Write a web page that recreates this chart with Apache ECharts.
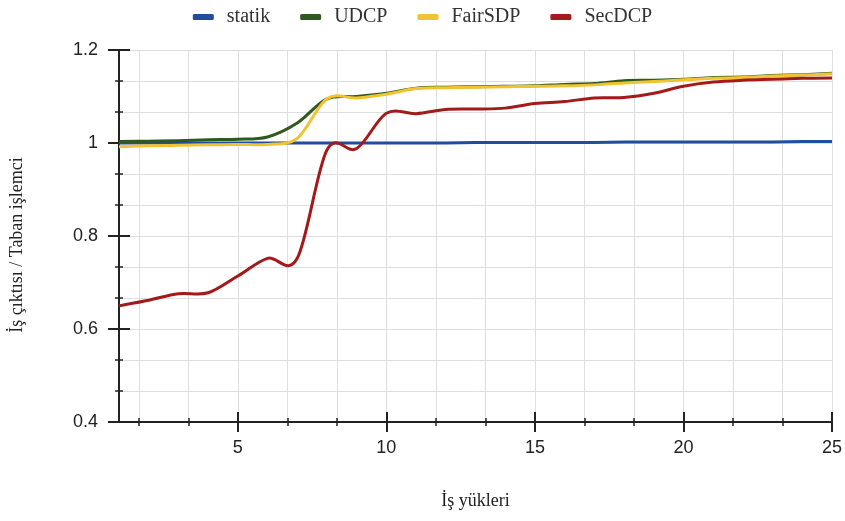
<!DOCTYPE html>
<html>
<head>
<meta charset="utf-8">
<script src="https://cdn.jsdelivr.net/npm/echarts@6/dist/echarts.min.js"></script>
<style>
  html, body { margin: 0; padding: 0; background: #fff; }
  #main { width: 845px; height: 521px; }
</style>
</head>
<body>
<div id="main"></div>
<script>
'use strict'
// throughput relative to base processor, 25 workloads

var colors = ['#1f4e9e', '#2f5a1d', '#f1c232', '#a41a1a'];

var workloads = [1, 2, 3, 4, 5, 6, 7, 8, 9, 10, 11, 12, 13, 14, 15, 16, 17, 18, 19, 20, 21, 22, 23, 24, 25];

var statik = [1.000, 1.000, 1.000, 1.000, 1.000, 1.000, 1.000, 1.000, 1.000, 1.000, 1.000, 1.000, 1.001,
              1.001, 1.001, 1.001, 1.001, 1.002, 1.002, 1.002, 1.002, 1.002, 1.002, 1.003, 1.003];
var udcp = [1.003, 1.004, 1.005, 1.007, 1.008, 1.013, 1.043, 1.095, 1.100, 1.107, 1.118, 1.120, 1.121,
            1.122, 1.123, 1.126, 1.128, 1.134, 1.135, 1.137, 1.141, 1.142, 1.145, 1.147, 1.150];
var fairsdp = [0.992, 0.994, 0.995, 0.996, 0.997, 0.997, 1.010, 1.095, 1.097, 1.105, 1.117, 1.119, 1.120,
               1.121, 1.122, 1.123, 1.125, 1.129, 1.132, 1.136, 1.139, 1.141, 1.144, 1.146, 1.149];
var secdcp = [0.650, 0.662, 0.676, 0.678, 0.714, 0.752, 0.752, 0.985, 0.988, 1.064, 1.063, 1.072, 1.073,
              1.075, 1.085, 1.089, 1.097, 1.098, 1.107, 1.122, 1.131, 1.135, 1.137, 1.139, 1.140];

// tick labels on x, and every tick / grid line (thirds of 5)
var x_labels = [5, 10, 15, 20, 25];
var x_ticks = [5/3, 10/3, 5, 20/3, 25/3, 10, 35/3, 40/3, 15, 50/3, 55/3, 20, 65/3, 70/3, 25];

var axisBase = {
    type: 'value',
    min: 1,
    max: 25,
    gridIndex: 0,
    position: 'bottom'
};

function xAxisOf(values, inside, len, width, extra) {
    var ax = Object.assign({}, axisBase, {
        axisLine: { show: false },
        axisLabel: { show: false, customValues: values },
        axisTick: {
            show: true, inside: inside, length: len, customValues: values,
            lineStyle: { color: '#222', width: width }
        },
        splitLine: { show: false }
    });
    return Object.assign(ax, extra || {});
}

// catmull-rom curve through the points, placed with the axes' scales
function curveSeries(name, ys, color) {
    return {
        name: name,
        type: 'custom',
        xAxisIndex: 3,
        yAxisIndex: 0,
        itemStyle: { color: color },
        data: workloads.map(function (x, i) { return [x, ys[i]]; }),
        encode: { x: 0, y: 1 },
        renderItem: function (params, api) {
            if (params.dataIndex !== 0) return;
            var p = workloads.map(function (x, i) { return api.coord([x, ys[i]]); });
            var d = 'M' + p[0][0] + ' ' + p[0][1];
            for (var i = 0; i < p.length - 1; i++) {
                var p0 = p[i - 1] || p[i], p1 = p[i], p2 = p[i + 1], p3 = p[i + 2] || p[i + 1];
                var c1x = p1[0] + (p2[0] - p0[0]) / 6, c1y = p1[1] + (p2[1] - p0[1]) / 6;
                var c2x = p2[0] - (p3[0] - p1[0]) / 6, c2y = p2[1] - (p3[1] - p1[1]) / 6;
                d += 'C' + c1x + ' ' + c1y + ' ' + c2x + ' ' + c2y + ' ' + p2[0] + ' ' + p2[1];
            }
            return {
                type: 'path',
                shape: { pathData: d },
                style: { fill: 'none', stroke: color, lineWidth: 3, lineJoin: 'round' }
            };
        }
    };
}

var option = {
    color: colors,
    animation: false,
    legend: {
        top: 2,
        left: 'center',
        itemWidth: 21,
        itemHeight: 6,
        itemGap: 30,
        icon: 'roundRect',
        textStyle: {
            fontFamily: 'Liberation Serif',
            fontSize: 20,
            color: '#333',
            padding: [0, 0, 0, 8]
        },
        data: ['statik', 'UDCP', 'FairSDP', 'SecDCP']
    },
    grid: {
        left: 116,
        right: 13,
        top: 50,
        bottom: 99
    },
    xAxis: [
        xAxisOf(x_ticks, false, 4, 1.5, {
            splitLine: { show: true, lineStyle: { color: '#dedede', width: 1 } }
        }),
        xAxisOf(x_ticks, true, 4, 1.5),
        xAxisOf(x_labels, true, 10, 2),
        xAxisOf(x_labels, false, 10, 2, {
            name: 'İş yükleri',
            nameLocation: 'middle',
            nameGap: 70,
            nameTextStyle: { fontFamily: 'Liberation Serif', fontSize: 18, color: '#222' },
            axisLine: { show: true, onZero: false, lineStyle: { color: '#222', width: 2 } },
            axisLabel: {
                show: true, customValues: x_labels, margin: 17,
                fontFamily: 'Liberation Sans', fontSize: 18, color: '#222'
            }
        })
    ],
    yAxis: [
        {
            type: 'value',
            min: 0.4,
            max: 1.2,
            interval: 0.2,
            name: 'İş çıktısı / Taban işlemci',
            nameLocation: 'middle',
            nameGap: 93,
            nameTextStyle: {
                fontFamily: 'Liberation Serif', fontSize: 18, color: '#222',
                padding: [0, 18, 0, 0]
            },
            axisLine: { show: true, onZero: false, lineStyle: { color: '#222', width: 2 } },
            axisTick: { show: true, length: 11, lineStyle: { color: '#222', width: 2 } },
            minorTick: { show: true, splitNumber: 3, length: 4, lineStyle: { color: '#222', width: 1.5 } },
            axisLabel: { margin: 21, fontFamily: 'Liberation Sans', fontSize: 18, color: '#222' },
            splitLine: { show: true, lineStyle: { color: '#dedede', width: 1 } },
            minorSplitLine: { show: true, lineStyle: { color: '#dedede', width: 1 } }
        },
        {
            type: 'value',
            min: 0.4,
            max: 1.2,
            interval: 0.2,
            position: 'left',
            axisLine: { show: false },
            axisTick: { show: true, inside: true, length: 11, lineStyle: { color: '#222', width: 2 } },
            minorTick: { show: true, splitNumber: 3, length: 4, lineStyle: { color: '#222', width: 1.5 } },
            axisLabel: { show: false },
            splitLine: { show: false }
        }
    ],
    series: [
        curveSeries('statik', statik, colors[0]),
        curveSeries('UDCP', udcp, colors[1]),
        curveSeries('FairSDP', fairsdp, colors[2]),
        curveSeries('SecDCP', secdcp, colors[3])
    ]
};

var myChart = echarts.init(document.getElementById('main'), null, { renderer: 'canvas' });
myChart.setOption(option);
</script>
</body>
</html>
